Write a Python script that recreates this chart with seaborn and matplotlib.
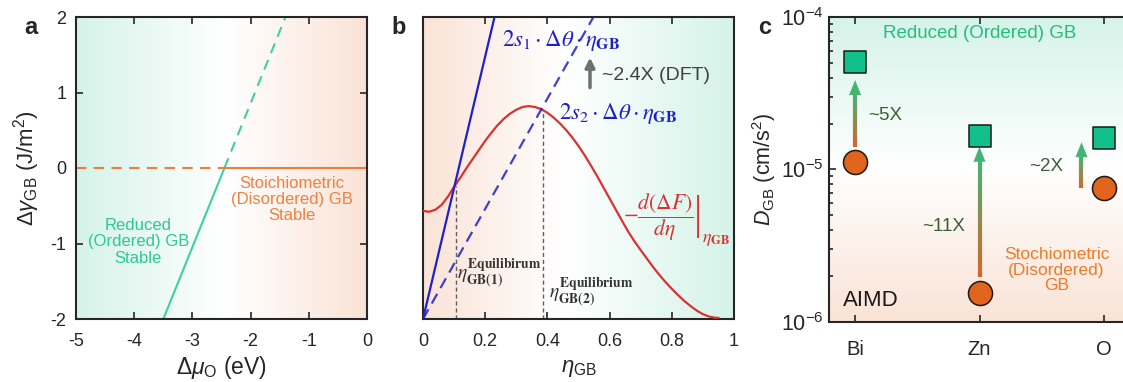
import numpy as np
import matplotlib
matplotlib.use('Agg')
import matplotlib.pyplot as plt
import seaborn as sns
from matplotlib.colors import LinearSegmentedColormap
from matplotlib.collections import LineCollection
from matplotlib.patches import Polygon

sns.set_style('ticks', {'xtick.direction': 'in', 'ytick.direction': 'in'})
plt.rcParams['font.family'] = ['Liberation Sans', 'DejaVu Sans']
plt.rcParams['axes.unicode_minus'] = False
plt.rcParams['mathtext.fontset'] = 'custom'
plt.rcParams['mathtext.rm'] = 'Liberation Sans'
plt.rcParams['mathtext.it'] = 'Liberation Sans:italic'
plt.rcParams['mathtext.bf'] = 'Liberation Sans:bold'

# ---- panel a: GB energy difference vs oxygen chemical potential
reduced_mu = [-3.5, -2.45, -1.4]
reduced_dg = [-2.0, 0.0, 2.0]
stoich_mu = [-5.0, -2.45, 0.0]
stoich_dg = [0.0, 0.0, 0.0]

# ---- panel b: driving force curve and the two linear terms
eta = [0.0, 0.02, 0.04, 0.06, 0.08, 0.10, 0.12, 0.14, 0.16, 0.18, 0.20, 0.22, 0.24,
       0.26, 0.28, 0.30, 0.32, 0.34, 0.36, 0.38, 0.40, 0.42, 0.44, 0.46, 0.48, 0.50,
       0.52, 0.54, 0.56, 0.58, 0.60, 0.62, 0.64, 0.66, 0.68, 0.70, 0.72, 0.74, 0.76,
       0.78, 0.80, 0.82, 0.84, 0.86, 0.88, 0.90, 0.92, 0.94, 0.95]
force = [0.358, 0.355, 0.362, 0.378, 0.405, 0.438, 0.468, 0.500, 0.530, 0.560, 0.590,
         0.617, 0.642, 0.663, 0.680, 0.693, 0.702, 0.705, 0.702, 0.695, 0.683, 0.667,
         0.648, 0.626, 0.601, 0.573, 0.542, 0.508, 0.473, 0.436, 0.399, 0.362, 0.325,
         0.289, 0.257, 0.228, 0.200, 0.172, 0.146, 0.122, 0.100, 0.079, 0.060, 0.043,
         0.028, 0.016, 0.008, 0.004, 0.004]
s1_eta = [0.0, 0.23]
s2_eta = [0.0, 0.548]
line_y = [0.0, 1.0]
eq_eta = [0.107, 0.385]
eq_top = [0.44, 0.695]

# ---- panel c: GB diffusivity (AIMD)
elements = ['Bi', 'Zn', 'O']
d_reduced = [5.1e-5, 1.66e-5, 1.62e-5]
d_stoich = [1.12e-5, 1.55e-6, 7.6e-6]
arrow_x = [0.0, 1.0, 1.82]
arrow_from = [1.41e-5, 1.97e-6, 7.57e-6]
arrow_to = [3.86e-5, 1.41e-5, 1.51e-5]
ratio_labels = ['~5X', '~11X', '~2X']
ratio_x = [0.104, 0.538, 1.40]
ratio_y = [2.25e-5, 4.2e-6, 1.04e-5]

GREEN_BG = '#d5f3e9'
PEACH_BG = '#fae3d6'
GREEN_LINE = '#3fd0a2'
ORANGE_LINE = '#f07e3a'
BLUE = '#2020c8'
RED = '#d93232'
SQ_GREEN = '#12c08c'
CIRC_ORANGE = '#e0641c'
W, H = 1123, 382


def add_panel(fig, rect, bg_colors, vertical=False):
    bg = fig.add_axes(rect, zorder=0)
    cmap = LinearSegmentedColormap.from_list('bg', bg_colors)
    grad = np.linspace(0, 1, 256)
    grad = grad.reshape(-1, 1) if vertical else grad.reshape(1, -1)
    bg.imshow(grad, cmap=cmap, aspect='auto', origin='lower',
              extent=[0, 1, 0, 1], interpolation='bilinear')
    bg.axis('off')
    ax = fig.add_axes(rect, zorder=1)
    ax.patch.set_alpha(0)
    for s in ax.spines.values():
        s.set_color('#262626')
        s.set_linewidth(1.5)
    ax.tick_params(which='both', direction='in', top=True, right=True,
                   labelsize=13, width=1.2, color='#262626')
    ax.tick_params(which='major', length=5)
    ax.tick_params(which='minor', length=3)
    ax.tick_params(axis='x', pad=10)
    ax.tick_params(axis='y', pad=7)
    return ax


def px_rect(left, top, right, bottom):
    return [left / W, 1 - bottom / H, (right - left) / W, (bottom - top) / H]


def grad_arrow(ax, x, y0, y1, c0, c1):
    to_ax = ax.transData + ax.transAxes.inverted()
    xa, ya0 = to_ax.transform((x, y0))
    _, ya1 = to_ax.transform((x, y1))
    bbox = ax.get_window_extent()
    head_len = 15 / bbox.height
    head_half = 6 / bbox.width
    yb = ya1 - head_len
    n = 40
    ys = np.linspace(ya0, yb + 0.002, n + 1)
    segs = [[(xa, ys[i]), (xa, ys[i + 1])] for i in range(n)]
    cmap = LinearSegmentedColormap.from_list('arr', [c0, c1])
    lc = LineCollection(segs, colors=cmap(np.linspace(0, 1, n)), linewidths=3,
                        transform=ax.transAxes, capstyle='butt', zorder=2)
    ax.add_collection(lc)
    head = Polygon([(xa - head_half, yb), (xa + head_half, yb), (xa, ya1)], closed=True,
                   transform=ax.transAxes, facecolor=c1, edgecolor='none', zorder=2)
    ax.add_patch(head)


fig = plt.figure(figsize=(W / 100, H / 100), dpi=100)

# ================= panel a =================
ax_a = add_panel(fig, px_rect(76, 17, 367, 319),
                 [(0, GREEN_BG), (0.52, 'white'), (1, PEACH_BG)])
ax_a.plot(reduced_mu[:2], reduced_dg[:2], color=GREEN_LINE, lw=1.5)
ax_a.plot(reduced_mu[1:], reduced_dg[1:], color=GREEN_LINE, lw=1.5, ls=(0, (5, 3.5)))
ax_a.plot(stoich_mu[:2], stoich_dg[:2], color=ORANGE_LINE, lw=1.5, ls=(0, (5, 3.5)))
ax_a.plot(stoich_mu[1:], stoich_dg[1:], color=ORANGE_LINE, lw=1.5)
ax_a.set_xlim(-5, 0)
ax_a.set_ylim(-2, 2)
ax_a.set_xticks([-5, -4, -3, -2, -1, 0])
ax_a.set_yticks([-2, -1, 0, 1, 2])
ax_a.set_xlabel(r'$\Delta\mu_{\mathrm{O}}$ (eV)', fontsize=16.5, labelpad=3)
ax_a.set_ylabel(r'$\Delta\gamma_{\mathrm{GB}}$ (J/m$^2$)', fontsize=16, labelpad=6)
ax_a.text(-3.93, -0.98, 'Reduced\n(Ordered) GB\nStable', color='#2cc895',
          fontsize=12, ha='center', va='center', linespacing=1.1)
ax_a.text(-1.29, -0.42, 'Stoichiometric\n(Disordered) GB\nStable', color='#f08040',
          fontsize=12, ha='center', va='center', linespacing=1.1)

# ================= panel b =================
ax_b = add_panel(fig, px_rect(423, 17, 734, 319),
                 [(0, PEACH_BG), (0.45, 'white'), (1, GREEN_BG)])
sns.lineplot(x=eta, y=force, ax=ax_b, color=RED, lw=1.6, zorder=3)
ax_b.plot(s1_eta, line_y, color=BLUE, lw=1.6, zorder=3)
ax_b.plot(s2_eta, line_y, color=BLUE, lw=1.6, ls=(0, (5, 3)), alpha=0.85, zorder=3)
for xe, ye in zip(eq_eta, eq_top):
    ax_b.plot([xe, xe], [0, ye], color='#606060', lw=1.0, ls=(0, (3, 2)), zorder=2)
ax_b.set_xlim(0, 1)
ax_b.set_ylim(0, 1)
ax_b.set_xticks([0, 0.2, 0.4, 0.6, 0.8, 1.0])
ax_b.set_xticklabels(['0', '0.2', '0.4', '0.6', '0.8', '1'])
ax_b.set_yticks([])
ax_b.set_xlabel(r'$\eta_{\mathrm{GB}}$', fontsize=16, labelpad=6)
ax_b.text(0.254, 0.923, r'$2s_1\cdot\Delta\theta\cdot\eta_{\mathbf{GB}}$', color=BLUE,
          fontsize=16.5, ha='left', va='center', math_fontfamily='stix')
ax_b.text(0.436, 0.68, r'$2s_2\cdot\Delta\theta\cdot\eta_{\mathbf{GB}}$', color=BLUE,
          fontsize=16.5, ha='left', va='center', math_fontfamily='stix')
ax_b.annotate('', xy=(0.537, 0.875), xytext=(0.537, 0.757),
              arrowprops=dict(arrowstyle='-|>', color='#707070', lw=2.5, mutation_scale=14))
ax_b.text(0.575, 0.807, '~2.4X (DFT)', color='#404040', fontsize=14, ha='left', va='center')
ax_b.text(0.642, 0.338, r'$-\dfrac{d(\Delta F)}{d\eta}$',
          color=RED, fontsize=15.5, ha='left', va='center', math_fontfamily='stix')
ax_b.text(0.885, 0.338, '|', color=RED, fontsize=30, ha='center', va='center',
          fontweight='light', family='DejaVu Sans')
ax_b.text(0.897, 0.262, r'$\eta_{\mathbf{GB}}$', color=RED, fontsize=13,
          ha='left', va='center', math_fontfamily='stix')
ax_b.text(0.108, 0.15, r'$\eta_{\mathbf{GB(1)}}^{\mathbf{Equilibirum}}$', color='#333333',
          fontsize=14, ha='left', va='center', math_fontfamily='stix')
ax_b.text(0.405, 0.085, r'$\eta_{\mathbf{GB(2)}}^{\mathbf{Equilibrium}}$', color='#333333',
          fontsize=14, ha='left', va='center', math_fontfamily='stix')

# ================= panel c =================
ax_c = add_panel(fig, px_rect(829, 17, 1130, 322),
                 [(0, PEACH_BG), (0.5, 'white'), (1, GREEN_BG)], vertical=True)
ax_c.set_yscale('log')
sns.scatterplot(x=elements, y=d_reduced, ax=ax_c, marker='s', s=250, color=SQ_GREEN,
                edgecolor='#1a1a1a', linewidth=1.1, zorder=4)
sns.scatterplot(x=elements, y=d_stoich, ax=ax_c, marker='o', s=300, color=CIRC_ORANGE,
                edgecolor='#1a1a1a', linewidth=1.1, zorder=4)
ax_c.set_xlim(-0.21, 2.21)
ax_c.set_ylim(1e-6, 1e-4)
ax_c.set_xticks([0, 1, 2])
ax_c.set_xticklabels(elements, fontsize=14.5)
ax_c.set_yticks([1e-6, 1e-5, 1e-4])
ax_c.set_yticklabels([r'$10^{-6}$', r'$10^{-5}$', r'$10^{-4}$'], fontsize=15.5)
ax_c.tick_params(axis='x', pad=13)
ax_c.tick_params(axis='y', pad=4)
ax_c.set_ylabel(r'$D_{\mathrm{GB}}$ (cm/s$^2$)', fontsize=15.5, labelpad=2)
ax_c.set_xlabel('')
for xa, y0, y1 in zip(arrow_x, arrow_from, arrow_to):
    grad_arrow(ax_c, xa, y0, y1, '#d4662a', '#44b474')
for lab, xl, yl in zip(ratio_labels, ratio_x, ratio_y):
    ax_c.text(xl, yl, lab, color='#3b6030', fontsize=13.5, ha='left', va='center')
ax_c.text(1.0, 7.74e-5, 'Reduced (Ordered) GB', color='#22c07a', fontsize=13.5,
          ha='center', va='center')
ax_c.text(1.62, 2.19e-6, 'Stochiometric\n(Disordered)\nGB', color='#ee7a2a', fontsize=12.5,
          ha='center', va='center', linespacing=1.05)
ax_c.text(-0.096, 1.39e-6, 'AIMD', color='#1a1a1a', fontsize=16, ha='left', va='center')

# panel letters
for lab, xp in zip(['a', 'b', 'c'], [31, 399, 765]):
    fig.text(xp / W, 1 - 28 / H, lab, fontsize=17, fontweight='bold',
             ha='center', va='center')

fig.savefig('out.png', dpi=100)
